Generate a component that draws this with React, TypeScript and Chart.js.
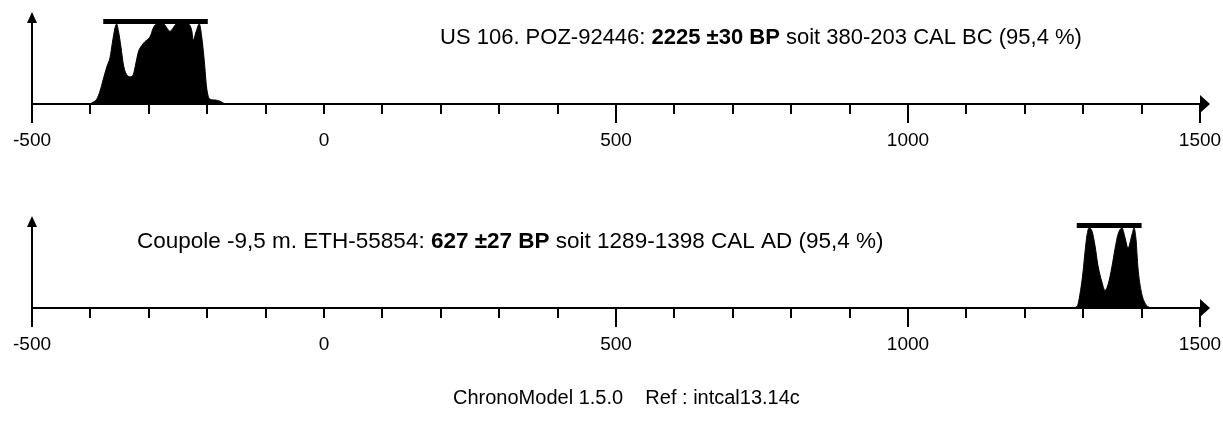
import React, { useEffect, useRef } from 'react';
import { Chart, registerables } from 'chart.js';

Chart.register(...registerables);

// ---------- data ----------
const xMin = -500;
const xMax = 1500;
const tickValues = [-500, -400, -300, -200, -100, 0, 100, 200, 300, 400, 500, 600, 700, 800, 900, 1000, 1100, 1200, 1300, 1400, 1500];
const labelValues = [-500, 0, 500, 1000, 1500];
const longTickValues = [-500, 500, 1000, 1500];

const usYears = [-400, -397.8, -389.2, -383.6, -377.9, -372.1, -366.4, -362.5, -357.9, -355.0, -352.2, -347.6, -343.7, -339.6, -332.2, -326.5, -322.4, -317.9, -312.2, -306.5, -297.9, -292.3, -286.5, -280.8, -275.2, -263.7, -252.2, -243.2, -232.4, -226.5, -223.8, -219.2, -213.5, -209.4, -205.0, -200.9, -195.2, -186.6, -178.1, -169.5];
const usDensity = [0, 0.013, 0.06, 0.16, 0.31, 0.46, 0.58, 0.76, 0.95, 1.0, 0.92, 0.71, 0.5, 0.39, 0.34, 0.37, 0.5, 0.65, 0.73, 0.78, 0.84, 0.95, 1.0, 1.0, 1.0, 0.91, 1.0, 1.0, 1.0, 0.92, 0.8, 0.9, 1.0, 0.84, 0.54, 0.2, 0.06, 0.05, 0.034, 0];
const usHpd = [-378, -199];
const usTitle = ['US 106. POZ-92446: ', '2225 ±30 BP', ' soit 380-203 CAL BC (95,4 %)'];

const couYears = [1280, 1289.5, 1295.5, 1299.7, 1303.1, 1306.5, 1309.9, 1315.1, 1320.2, 1325.3, 1332.2, 1337.3, 1342.5, 1349.3, 1354.5, 1359.6, 1366.4, 1371.6, 1376.7, 1383.6, 1387.0, 1390.4, 1393.8, 1399.0, 1405.8, 1414.4];
const couDensity = [0, 0.02, 0.22, 0.45, 0.7, 0.91, 1.0, 0.96, 0.78, 0.53, 0.32, 0.22, 0.29, 0.52, 0.74, 0.92, 1.0, 0.88, 0.75, 0.92, 1.0, 0.86, 0.5, 0.22, 0.06, 0];
const couHpd = [1289, 1400];
const couTitle = ['Coupole -9,5 m. ETH-55854: ', '627 ±27 BP', ' soit 1289-1398 CAL AD (95,4 %)'];

const footerText = 'ChronoModel 1.5.0    Ref : intcal13.14c';

// ---------- layout ----------
const W = 1223;
const PANEL_H = 204;
const FONT = 'Arial, "Liberation Sans", sans-serif';

type PanelProps = {
  years: number[];
  density: number[];
  hpd: number[];
  title: string[];
  titleX: number;
  titleSize: number;
  top: number;
};

function Panel({ years, density, hpd, title, titleX, titleSize, top }: PanelProps) {
  const ref = useRef<HTMLCanvasElement | null>(null);
  useEffect(() => {
    if (!ref.current) return;
    const axisPlugin = {
      id: 'chronoAxis',
      afterDatasetsDraw(chart: any) {
        const ctx: CanvasRenderingContext2D = chart.ctx;
        const xs = chart.scales.x;
        const area = chart.chartArea;
        const axisY = area.bottom;
        const x0 = xs.getPixelForValue(xMin);
        const x1 = xs.getPixelForValue(xMax);
        ctx.save();
        ctx.strokeStyle = '#000';
        ctx.fillStyle = '#000';
        ctx.lineWidth = 2;
        ctx.lineCap = 'butt';
        // x axis
        ctx.beginPath();
        ctx.moveTo(x0 - 1, axisY);
        ctx.lineTo(x1 + 2, axisY);
        ctx.stroke();
        ctx.beginPath();
        ctx.moveTo(x1, axisY - 9);
        ctx.lineTo(x1 + 10, axisY);
        ctx.lineTo(x1, axisY + 9);
        ctx.closePath();
        ctx.fill();
        // y axis
        ctx.beginPath();
        ctx.moveTo(x0, axisY + 19);
        ctx.lineTo(x0, 20);
        ctx.stroke();
        ctx.beginPath();
        ctx.moveTo(x0 - 5, 23);
        ctx.lineTo(x0, 12);
        ctx.lineTo(x0 + 5, 23);
        ctx.closePath();
        ctx.fill();
        // ticks
        for (const v of tickValues) {
          const px = Math.round(xs.getPixelForValue(v));
          const len = longTickValues.includes(v) ? 19 : 10;
          ctx.beginPath();
          ctx.moveTo(px, axisY);
          ctx.lineTo(px, axisY + len);
          ctx.stroke();
        }
        // labels
        ctx.font = `19px ${FONT}`;
        ctx.textAlign = 'center';
        ctx.textBaseline = 'alphabetic';
        for (const v of labelValues) {
          ctx.fillText(String(v), xs.getPixelForValue(v), axisY + 42);
        }
        // HPD bar
        const h0 = xs.getPixelForValue(hpd[0]);
        const h1 = xs.getPixelForValue(hpd[1]);
        ctx.fillRect(h0, 19, h1 - h0, 5);
        // title
        ctx.textAlign = 'left';
        let tx = titleX;
        title.forEach((part, i) => {
          ctx.font = `${i === 1 ? 'bold ' : ''}${titleSize}px ${FONT}`;
          ctx.fillText(part, tx, 44);
          tx += ctx.measureText(part).width;
        });
        ctx.restore();
      },
    };
    const chart = new Chart(ref.current, {
      type: 'line',
      data: {
        datasets: [
          {
            data: years.map((yr, i) => ({ x: yr, y: density[i] })),
            fill: 'origin',
            backgroundColor: '#000',
            borderColor: '#000',
            borderWidth: 1,
            pointRadius: 0,
            cubicInterpolationMode: 'monotone',
          },
        ],
      },
      options: {
        responsive: false,
        maintainAspectRatio: false,
        animation: false,
        layout: { padding: { left: 32, right: 23, top: 24, bottom: PANEL_H - 104 } },
        plugins: { legend: { display: false }, tooltip: { enabled: false } },
        scales: {
          x: { type: 'linear', min: xMin, max: xMax, display: false },
          y: { type: 'linear', min: 0, max: 1, display: false },
        },
      },
      plugins: [axisPlugin],
    } as any);
    return () => chart.destroy();
  }, [years, density, hpd, title, titleX, titleSize]);
  return (
    <canvas
      ref={ref}
      width={W}
      height={PANEL_H}
      style={{ position: 'absolute', left: 0, top, width: W, height: PANEL_H, display: 'block' }}
    />
  );
}

export default function App() {
  return (
    <div style={{ position: 'absolute', left: 0, top: 0, width: W, height: 423, background: '#fff', overflow: 'hidden' }}>
      <Panel years={usYears} density={usDensity} hpd={usHpd} title={usTitle} titleX={440} titleSize={22} top={0} />
      <Panel years={couYears} density={couDensity} hpd={couHpd} title={couTitle} titleX={137} titleSize={22.5} top={204} />
      <div
        style={{
          position: 'absolute',
          left: 453,
          top: 386,
          font: `20px ${FONT}`,
          color: '#000',
          whiteSpace: 'pre',
        }}
      >
        {footerText}
      </div>
    </div>
  );
}
